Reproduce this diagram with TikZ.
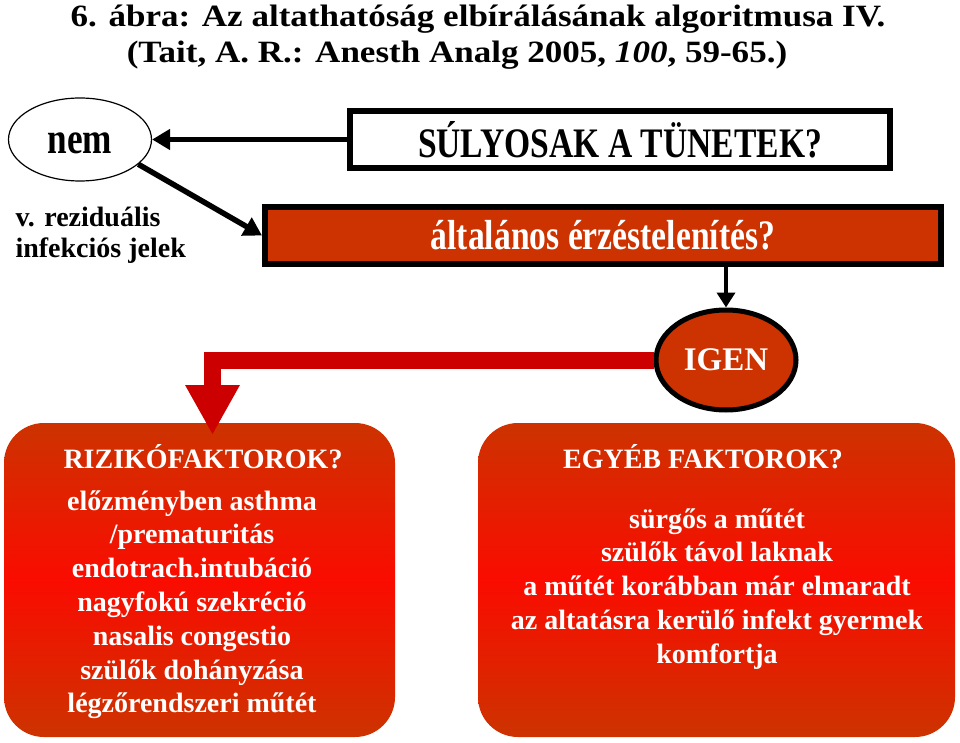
\documentclass[tikz,border=0pt]{standalone}
\usepackage{fontspec}
\setmainfont{Liberation Serif}
\newfontfamily\widefont{Liberation Serif}[FakeStretch=1.13]
\newfontfamily\narrowfont{Liberation Serif}[FakeStretch=0.8]
\usetikzlibrary{shapes.geometric,arrows.meta}
\definecolor{boxred}{RGB}{204,51,0}
\definecolor{brightred}{RGB}{250,12,0}
\definecolor{arrowred}{RGB}{204,0,0}

\begin{document}
\begin{tikzpicture}[x=1pt, y=-1pt,
    titletext/.style={anchor=base, font=\widefont\bfseries\fontsize{31}{37}\selectfont},
    question/.style={draw=black, line width=6pt, inner sep=0pt,
      font=\narrowfont\bfseries\fontsize{42}{42}\selectfont},
    gradbox/.style={rounded corners=40pt, top color=boxred, bottom color=boxred,
      middle color=brightred},
    boxtext/.style={anchor=base, text=white, font=\bfseries\fontsize{28}{28}\selectfont},
    blackarrow/.style={line width=5.5pt, -{Triangle[length=18pt,width=20pt]}},
    downarrow/.style={line width=4pt, -{Triangle[length=15pt,width=18pt]}},
    redarrow/.style={draw=arrowred, line width=17pt, -{Triangle[length=50pt,width=51pt]}}]
  \useasboundingbox (0,0) rectangle (960,743);

  \node[titletext] (title1) at (478,27) {6. ábra: Az altathatóság elbírálásának algoritmusa IV.};
  \node[titletext] (title2) at (457,63) {(Tait, A. R.: Anesth Analg 2005, \textit{100}, 59-65.)};

  \node[draw, ellipse, line width=1.2pt, minimum width=143pt, minimum height=83pt, inner sep=0pt,
    text height=28pt, font=\narrowfont\bfseries\fontsize{44}{44}\selectfont] (nem) at (80,139.5) {nem};
  \node[anchor=base west, align=left, font=\bfseries\fontsize{28}{31}\selectfont] (resid) at (12,258)
    {v. reziduális\\infekciós jelek};

  \node[question, minimum width=540pt, minimum height=57pt] (sulyos) at (620,139.5) {SÚLYOSAK A TÜNETEK?};
  \node[question, fill=boxred, text=white, minimum width=676pt, minimum height=57pt] (gen) at (603,235.5)
    {általános érzéstelenítés?};

  \node[gradbox, minimum width=391pt, minimum height=314pt] (risk) at (199.5,580) {};
  \node[gradbox, minimum width=477pt, minimum height=314pt] (other) at (716.5,580) {};

  \node[draw=black, ellipse, line width=5pt, fill=boxred, text=white, minimum width=140pt,
    minimum height=100pt, font=\bfseries\fontsize{33}{33}\selectfont] (igen) at (726,360) {IGEN};

  \draw[blackarrow] (sulyos.west) -- (nem.east);
  \draw[blackarrow] (nem.-23) -- (gen.west);
  \draw[downarrow] (gen.south -| igen.north) -- (igen.north);
  \coordinate (risktip) at (212.5,435);
  \draw[redarrow] (igen.west) -| (risktip);

  \node[boxtext] (risktitle) at (203,468) {RIZIKÓFAKTOROK?};
  \foreach \line [count=\i] in {előzményben asthma, /prematuritás, endotrach.intubáció,
      nagyfokú szekréció, nasalis congestio, szülők dohányzása, légzőrendszeri műtét}
    \node[boxtext] (risk\i) at (192,476.2+33.8*\i) {\line};

  \node[boxtext] (othertitle) at (703,468) {EGYÉB FAKTOROK?};
  \foreach \line [count=\i] in {sürgős a műtét, szülők távol laknak, a műtét korábban már elmaradt,
      az altatásra kerülő infekt gyermek, komfortja}
    \node[boxtext] (other\i) at (717,494.25+33.75*\i) {\line};
\end{tikzpicture}
\end{document}
